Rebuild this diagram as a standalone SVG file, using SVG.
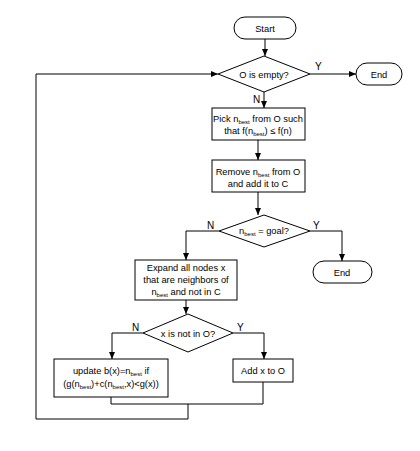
<svg xmlns="http://www.w3.org/2000/svg" width="420" height="451" viewBox="0 0 420 451">
<defs>
<marker id="ah" markerWidth="8" markerHeight="8" refX="7" refY="4" orient="auto" markerUnits="userSpaceOnUse">
<path d="M0,1 L7,4 L0,7 Z" fill="#000"/>
</marker>
<style>
.s{fill:#fff;stroke:#000;stroke-width:1}
.t{font-family:"Liberation Sans",Arial,sans-serif;font-size:9.3px;fill:#000;text-anchor:middle}
.l{font-family:"Liberation Sans",Arial,sans-serif;font-size:10px;fill:#000}
.sub{font-size:6px}
.c{fill:none;stroke:#000;stroke-width:1}
.a{fill:none;stroke:#000;stroke-width:1;marker-end:url(#ah)}
</style>
</defs>
<rect width="420" height="451" fill="#fff"/>
<g id="connectors">
<path class="a" d="M265,39 V56"/>
<path class="a" d="M310,74 H356"/>
<path class="a" d="M264,92 V108"/>
<path class="a" d="M258,140 V160"/>
<path class="a" d="M258,192 V215"/>
<path class="a" d="M219,231 H186 V260"/>
<path class="a" d="M310,231 H342 V261"/>
<path class="a" d="M186,300 V314"/>
<path class="a" d="M143,333 H112 V359"/>
<path class="a" d="M233,333 H264 V359"/>
<path class="c" d="M111,397 V404 H263 V382"/>
<path class="a" d="M188,404 V419 H36 V74 H218"/>
</g>
<g id="start"><rect class="s" x="234" y="17" width="62" height="22" rx="11"/><text class="t" x="265" y="31.5">Start</text></g>
<g id="d1"><path class="s" d="M218,74 L264,56 L310,74 L264,92 Z"/><text class="t" x="264" y="77.5">O is empty?</text></g>
<text class="l" x="315" y="70">Y</text>
<text class="l" x="253" y="103">N</text>
<g id="end1"><rect class="s" x="356" y="63" width="46" height="22" rx="11"/><text class="t" x="379" y="77.5">End</text></g>
<g id="pick"><rect class="s" x="212" y="108" width="93" height="32"/>
<text class="t" x="258" y="122">Pick n<tspan class="sub" dy="2">best</tspan><tspan dy="-2"> from O such</tspan></text>
<text class="t" x="258" y="134">that f(n<tspan class="sub" dy="2">best</tspan><tspan dy="-2">) ≤ f(n)</tspan></text></g>
<g id="remove"><rect class="s" x="212" y="160" width="93" height="32"/>
<text class="t" x="258" y="175">Remove n<tspan class="sub" dy="2">best</tspan><tspan dy="-2"> from O</tspan></text>
<text class="t" x="258" y="187">and add it to C</text></g>
<g id="d2"><path class="s" d="M219,231 L264,215 L310,231 L264,247 Z"/>
<text class="t" x="264" y="234">n<tspan class="sub" dy="2">best</tspan><tspan dy="-2"> = goal?</tspan></text></g>
<text class="l" x="207" y="229">N</text>
<text class="l" x="313" y="229">Y</text>
<g id="end2"><rect class="s" x="313" y="261" width="59" height="22" rx="11"/><text class="t" x="342" y="275.5">End</text></g>
<g id="expand"><rect class="s" x="135" y="260" width="102" height="40"/>
<text class="t" x="186" y="271">Expand all nodes x</text>
<text class="t" x="186" y="283">that are neighbors of</text>
<text class="t" x="186" y="295">n<tspan class="sub" dy="2">best</tspan><tspan dy="-2"> and not in C</tspan></text></g>
<g id="d3"><path class="s" d="M143,333 L188,314 L233,333 L188,352 Z"/><text class="t" x="188" y="336.5">x is not in O?</text></g>
<text class="l" x="132" y="331">N</text>
<text class="l" x="237" y="331">Y</text>
<g id="update"><rect class="s" x="54" y="359" width="114" height="38"/>
<text class="t" x="111" y="374">update b(x)=n<tspan class="sub" dy="2">best</tspan><tspan dy="-2"> if</tspan></text>
<text class="t" x="111" y="387">(g(n<tspan class="sub" dy="2">best</tspan><tspan dy="-2">)+c(n</tspan><tspan class="sub" dy="2">best</tspan><tspan dy="-2">,x)&lt;g(x))</tspan></text></g>
<g id="add"><rect class="s" x="233" y="359" width="60" height="23"/><text class="t" x="263" y="374">Add x to O</text></g>
</svg>
